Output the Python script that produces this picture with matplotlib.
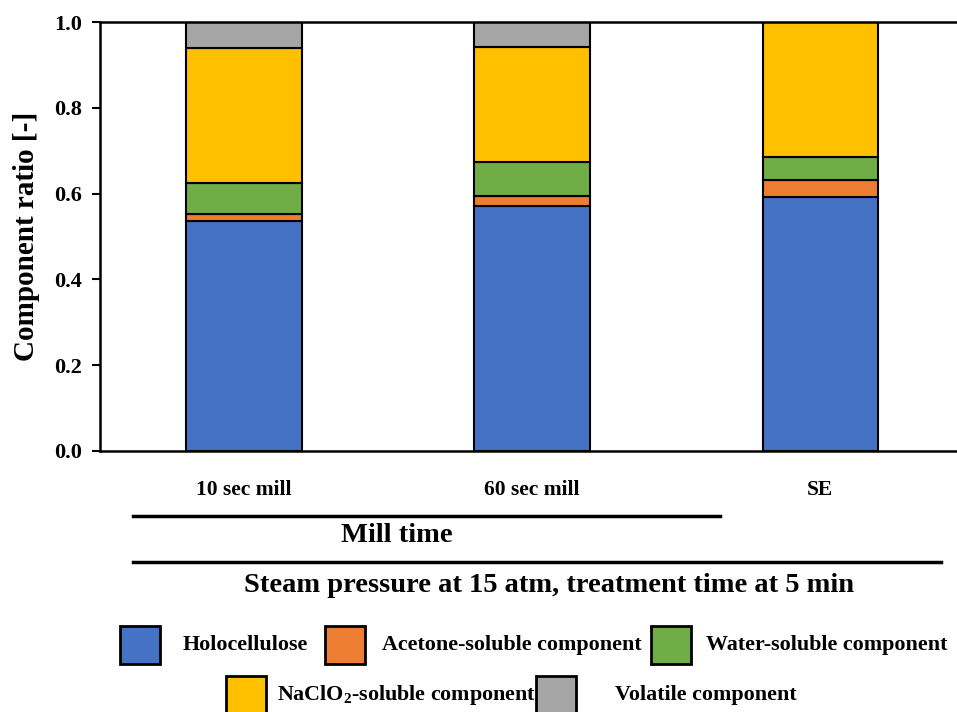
"""Stacked component ratio bars for mill / steam explosion samples."""

import matplotlib.pyplot as plt
import numpy as np
from matplotlib.lines import Line2D
from matplotlib.patches import Rectangle

categories = ["10 sec mill", "60 sec mill", "SE"]
components = [
    "Holocellulose",
    "Acetone-soluble component",
    "Water-soluble component",
    "NaClO$\\mathregular{_2}$-soluble component",
    "Volatile component",
]
holocellulose = [0.537, 0.572, 0.593]
acetone = [0.015, 0.022, 0.039]
water = [0.072, 0.079, 0.053]
naclo2 = [0.315, 0.269, 0.315]
volatile = [0.061, 0.058, 0.0]
colors = ["#4472C4", "#ED7D31", "#70AD47", "#FFC000", "#A5A5A5"]

plt.rcParams["font.family"] = "Liberation Serif"
plt.rcParams["font.weight"] = "bold"
plt.rcParams["mathtext.fontset"] = "custom"
plt.rcParams["mathtext.rm"] = "Liberation Serif:bold"

fig = plt.figure(figsize=(9.57, 7.12), dpi=100)
ax = fig.add_axes([0.1045, 0.3666, 0.903, 0.6025])

x = np.arange(len(categories))
bottom = np.zeros(len(categories))
for values, color in zip([holocellulose, acetone, water, naclo2, volatile], colors):
    ax.bar(x, values, width=0.4, bottom=bottom, color=color, edgecolor="black", linewidth=1.5)
    bottom += np.array(values)

ax.set_xlim(-0.5, 2.5)
ax.set_ylim(0, 1.0)
ax.set_yticks(np.arange(0, 1.01, 0.2))
ax.set_yticklabels([f"{v:.1f}" for v in np.arange(0, 1.01, 0.2)], fontsize=16, fontweight="bold")
ax.set_xticks(x)
ax.set_xticklabels(categories, fontsize=15.5, fontweight="bold")
ax.tick_params(axis="x", length=0, pad=21)
ax.tick_params(axis="y", length=6, width=1.5, direction="out", pad=7)
ax.set_ylabel("Component ratio [-]", fontsize=21, fontweight="bold", labelpad=10)
for side in ["left", "bottom", "top"]:
    ax.spines[side].set_linewidth(1.8)
ax.spines["right"].set_visible(False)

W, H = 957, 712


def fx(px):
    return px / W


def fy(py):
    return 1 - py / H


fig.add_artist(Line2D([fx(133), fx(720)], [fy(516), fy(516)], color="black", linewidth=2.5))
fig.add_artist(Line2D([fx(133), fx(941)], [fy(562), fy(562)], color="black", linewidth=2.5))
fig.text(fx(397), fy(536), "Mill time", fontsize=20.5, fontweight="bold", ha="center", va="center")
fig.text(fx(549), fy(585), "Steam pressure at 15 atm, treatment time at 5 min",
         fontsize=20.5, fontweight="bold", ha="center", va="center")

# legend laid out by hand: 3 entries in the first row, 2 in the second
legend_pos = [(120, 645, 183), (325, 645, 382), (651, 645, 706), (226, 695, 277), (536, 695, 615)]
for (px, py, tx), label, color in zip(legend_pos, components, colors):
    fig.add_artist(Rectangle((fx(px), fy(py + 19)), 40 / W, 38 / H, facecolor=color,
                             edgecolor="black", linewidth=2.0, transform=fig.transFigure))
    fig.text(fx(tx), fy(py), label, fontsize=15.8, fontweight="bold", ha="left", va="center")

fig.savefig("out.png", dpi=100)
